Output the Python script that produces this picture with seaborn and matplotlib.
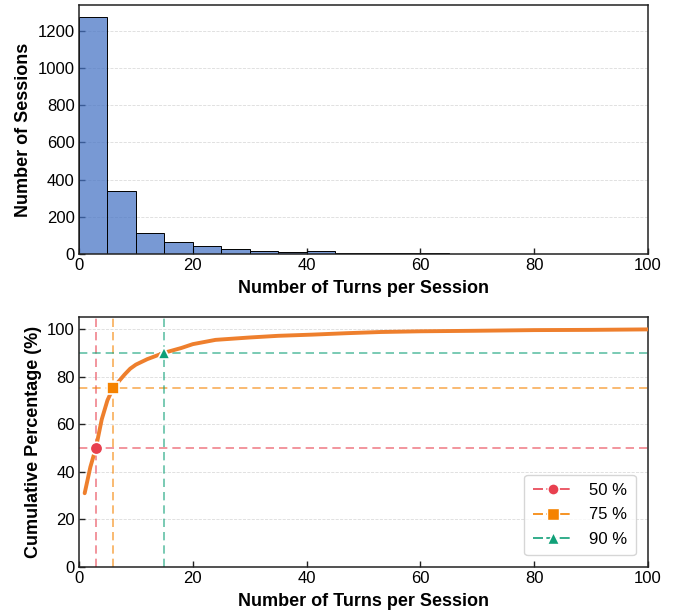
import numpy as np
import pandas as pd
import matplotlib
matplotlib.use("Agg")
import matplotlib.pyplot as plt
import seaborn as sns
from matplotlib.lines import Line2D

# ---- data ----
bin_edges = [0, 5, 10, 15, 20, 25, 30, 35, 40, 45, 50, 55, 60, 65, 70, 75, 80, 85, 90, 95, 100]
bin_counts = [1275, 339, 111, 63, 45, 27, 16, 12, 14, 7, 4, 3, 3, 2, 2, 0, 0, 0, 0, 0]

cum_turns = [1, 2, 3, 4, 5, 6, 7, 8, 9, 10, 12, 15, 18, 20, 24, 30, 35, 41, 47, 53, 60, 69, 80, 90, 100]
cum_pct = [31, 42, 50.3, 62, 70, 75.2, 78, 80.8, 83.3, 85, 87.3, 90, 92, 93.6, 95.4, 96.4, 97.1,
           97.6, 98.2, 98.7, 99.0, 99.2, 99.5, 99.6, 99.8]

thr_labels = ["50 %", "75 %", "90 %"]
thr_pct = [50, 75, 90]
thr_turns = [3, 6, 15]
thr_colors = ["#E8404F", "#F58200", "#10A078"]
thr_markers = ["o", "s", "^"]

x_ticks = [0, 20, 40, 60, 80, 100]

# ---- style ----
sns.set_theme(style="white")
plt.rcParams["font.family"] = ["Liberation Sans", "DejaVu Sans"]
plt.rcParams["xtick.direction"] = "in"
plt.rcParams["ytick.direction"] = "in"
plt.rcParams["text.color"] = "black"
plt.rcParams["axes.labelcolor"] = "black"
plt.rcParams["xtick.color"] = "black"
plt.rcParams["ytick.color"] = "black"

fig = plt.figure(figsize=(6.88, 6.14), dpi=100)
ax1 = fig.add_axes([0.1148, 0.5863, 0.8271, 0.4056])
ax2 = fig.add_axes([0.1148, 0.0765, 0.8271, 0.4072])

centers = [(bin_edges[i] + bin_edges[i + 1]) / 2 for i in range(len(bin_counts))]
hist_df = pd.DataFrame({"turns": centers, "count": bin_counts})
sns.histplot(data=hist_df, x="turns", weights="count", bins=bin_edges, ax=ax1,
             color="#4472C4", alpha=0.72, edgecolor="black", linewidth=0.7)

ax1.set_xlim(0, 100)
ax1.set_ylim(0, max(bin_counts) * 1.05)
ax1.set_xticks(x_ticks)
ax1.set_yticks([0, 200, 400, 600, 800, 1000, 1200])
ax1.set_xlabel("Number of Turns per Session", fontsize=13, fontweight="bold", labelpad=5)
ax1.set_ylabel("Number of Sessions", fontsize=13, fontweight="bold", labelpad=4)
ax1.yaxis.grid(True, linestyle="--", color="#cccccc", linewidth=0.6, alpha=0.7)
ax1.set_axisbelow(True)

# ---- cumulative ----
cum_df = pd.DataFrame({"turns": cum_turns, "pct": cum_pct})
sns.lineplot(data=cum_df, x="turns", y="pct", ax=ax2, color="#EE7F2D", linewidth=2.8, zorder=3)

handles = []
for lab, p, t, c, m in zip(thr_labels, thr_pct, thr_turns, thr_colors, thr_markers):
    ax2.axhline(p, color=c, linestyle="--", linewidth=1.2, alpha=0.65, dashes=(5, 3), zorder=2)
    ax2.axvline(t, color=c, linestyle="--", linewidth=1.2, alpha=0.65, dashes=(5, 3), zorder=2)
    ms = 9 if m != "^" else 8
    ax2.plot([t], [p], marker=m, color=c, markersize=ms, markeredgecolor="white",
             markeredgewidth=1.2, linestyle="none", zorder=5)
    handles.append(Line2D([0], [0], color=c, linestyle="--", dashes=(6, 2), linewidth=1.2,
                          marker=m, markersize=8, markeredgecolor="white", markeredgewidth=1.0,
                          label=lab))

ax2.set_xlim(0, 100)
ax2.set_ylim(0, 105)
ax2.set_xticks(x_ticks)
ax2.set_yticks([0, 20, 40, 60, 80, 100])
ax2.set_xlabel("Number of Turns per Session", fontsize=13, fontweight="bold", labelpad=5)
ax2.set_ylabel("Cumulative Percentage (%)", fontsize=13, fontweight="bold", labelpad=4)
ax2.yaxis.grid(True, linestyle="--", color="#cccccc", linewidth=0.6, alpha=0.7)
ax2.set_axisbelow(True)
ax2.legend(handles=handles, loc="lower right", fontsize=12, frameon=True,
           edgecolor="#cccccc", fancybox=True, handlelength=2.4, borderpad=0.5,
           labelspacing=0.55, handletextpad=1.0, bbox_to_anchor=(0.993, 0.015))

for ax in (ax1, ax2):
    for s in ax.spines.values():
        s.set_color("#222222")
        s.set_linewidth(1.1)
    ax.tick_params(axis="both", labelsize=12, length=4, width=1, color="#222222",
                   labelcolor="black", bottom=True, left=True, top=False, right=False, pad=3)

fig.savefig("out.png", dpi=100)
